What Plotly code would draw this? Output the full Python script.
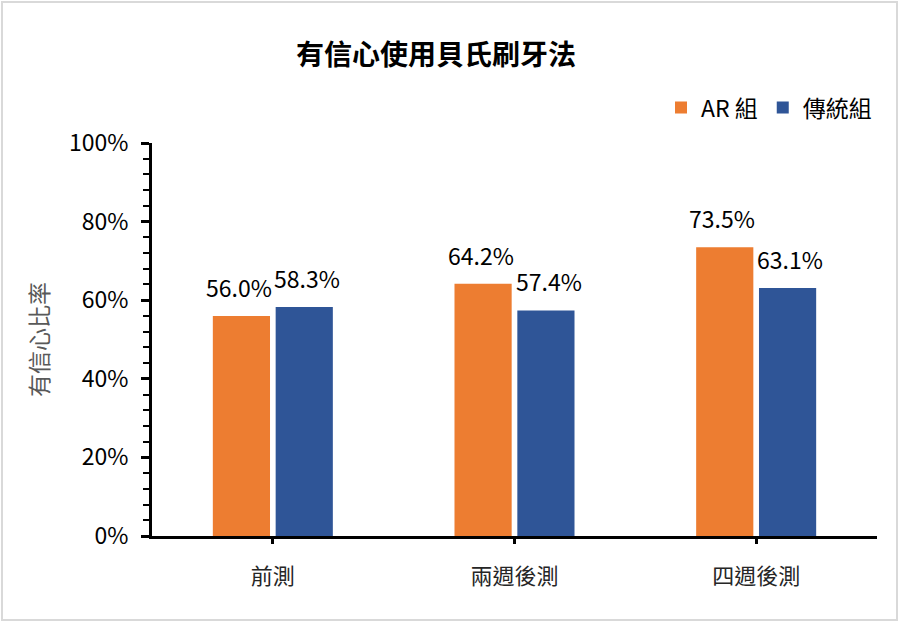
import plotly.graph_objects as go

# 資料
categories = ["前測", "兩週後測", "四週後測"]
ar_values = [0.560, 0.642, 0.735]
trad_values = [0.583, 0.574, 0.631]
series_names = ["AR 組", "傳統組"]
colors = ["#ED7D31", "#2F5597"]

font_family = "Noto Sans CJK TC, Noto Sans, sans-serif"

traces = []
for name, vals, col in zip(series_names, [ar_values, trad_values], colors):
    traces.append(go.Bar(x=categories, y=vals, name=name,
                         marker=dict(color=col, line=dict(width=0))))

# 數據標籤 (用 annotation 控制位置)
annotations = []
for vals, shift in [(ar_values, -34), (trad_values, 34)]:
    for c, v in zip(categories, vals):
        annotations.append(dict(x=c, y=v, text=f"{v*100:.1f}%", showarrow=False,
                                xshift=shift, yshift=29, yanchor="middle",
                                font=dict(size=23, color="#000000")))

layout = go.Layout(
    width=899, height=624,
    font=dict(family=font_family, color="#000000"),
    title=dict(text="<b>有信心使用貝氏刷牙法</b>", xref="container", x=0.485,
               xanchor="center", y=0.912, yanchor="middle",
               font=dict(size=28, color="#000000")),
    margin=dict(l=152, r=22, t=143, b=88),
    paper_bgcolor="white", plot_bgcolor="white",
    barmode="group", bargap=0.48, bargroupgap=0.09,
    showlegend=True,
    legend=dict(orientation="h", x=1.0, xanchor="right", y=1.09, yanchor="middle",
                font=dict(size=23, color="#000000"), itemwidth=30,
                traceorder="normal"),
    xaxis=dict(showline=True, linecolor="#000000", linewidth=3,
               ticks="outside", ticklen=5, tickwidth=3, tickcolor="#000000",
               ticklabelstandoff=14,
               tickfont=dict(size=22, color="#262626"), showgrid=False),
    yaxis=dict(range=[0, 1], dtick=0.2, tickformat=".0%",
               showline=True, linecolor="#000000", linewidth=3,
               ticks="outside", ticklen=8, tickwidth=3, tickcolor="#000000",
               ticklabelstandoff=8,
               minor=dict(dtick=0.04, ticks="outside", ticklen=6, tickwidth=2,
                          tickcolor="#000000"),
               tickfont=dict(size=23, color="#000000"), showgrid=False,
               zeroline=False,
               title=dict(text="有信心比率", font=dict(size=23, color="#595959"),
                          standoff=14)),
    annotations=annotations,
    shapes=[dict(type="rect", xref="paper", yref="paper",
                 x0=-150/725, x1=1+20/725, y0=-84/393, y1=1+141/393,
                 line=dict(color="#D9D9D9", width=2))],
)

fig = go.Figure(traces, layout=layout)
fig.write_html("out.html", config={"displayModeBar": False},
               post_script="document.body.style.margin='0';")
